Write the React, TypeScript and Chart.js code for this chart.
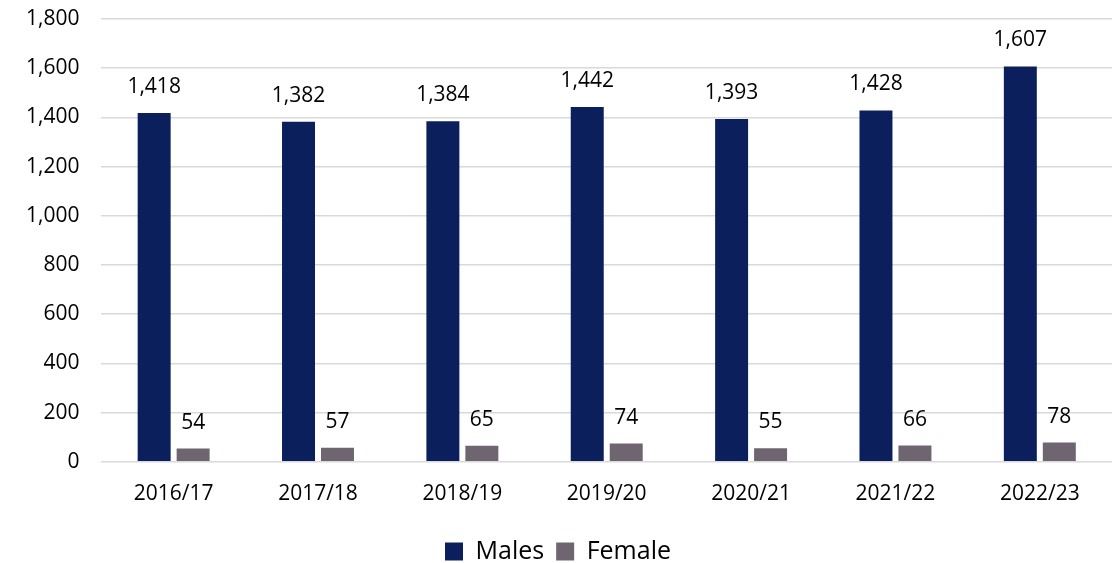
import React, { useEffect, useRef } from "react";
import { Chart, registerables } from "chart.js";

Chart.register(...registerables);

const categories = ["2016/17", "2017/18", "2018/19", "2019/20", "2020/21", "2021/22", "2022/23"];
const males = [1418, 1382, 1384, 1442, 1393, 1428, 1607];
const females = [54, 57, 65, 74, 55, 66, 78];
const seriesNames = ["Males", "Female"];
const yTicksMax = 1800;
const yTickStep = 200;

const FONT = "'Open Sans', 'Liberation Sans', sans-serif";

const dataLabelPlugin = {
  id: "dataLabels",
  afterDatasetsDraw(chart: any) {
    const ctx = chart.ctx;
    ctx.save();
    ctx.font = `21px ${FONT}`;
    ctx.fillStyle = "#000000";
    ctx.textAlign = "center";
    ctx.textBaseline = "middle";
    chart.data.datasets.forEach((ds: any, di: number) => {
      const meta = chart.getDatasetMeta(di);
      meta.data.forEach((bar: any, i: number) => {
        const v = ds.data[i];
        ctx.fillText(Number(v).toLocaleString("en-US"), bar.x, bar.y - 26);
      });
    });
    ctx.restore();
  },
};

export default function App() {
  const ref = useRef<HTMLCanvasElement | null>(null);
  useEffect(() => {
    if (!ref.current) return;
    const chart = new Chart(ref.current, {
      type: "bar",
      data: {
        labels: categories,
        datasets: [
          {
            label: seriesNames[0],
            data: males,
            backgroundColor: "#0A1F5C",
            categoryPercentage: 0.54,
            barPercentage: 0.846,
          },
          {
            label: seriesNames[1],
            data: females,
            backgroundColor: "#6E6571",
            categoryPercentage: 0.54,
            barPercentage: 0.846,
          },
        ],
      },
      options: {
        responsive: true,
        maintainAspectRatio: false,
        animation: false,
        layout: { padding: { top: 19, right: 8, left: 4, bottom: -11 } },
        scales: {
          x: {
            grid: { display: false, drawTicks: false },
            border: { display: false },
            ticks: { color: "#000", font: { family: FONT, size: 21 }, padding: 20 },
          },
          y: {
            min: 0,
            max: yTicksMax,
            border: { display: false },
            grid: { color: "#D9D9D9", lineWidth: 1.5, drawTicks: false },
            afterFit: (s: any) => {
              s.paddingTop = 0;
              s.paddingBottom = 0;
            },
            ticks: {
              stepSize: yTickStep,
              color: "#000",
              font: { family: FONT, size: 21 },
              padding: 22,
              callback: (v: any) => Number(v).toLocaleString("en-US"),
            },
          },
        },
        plugins: {
          legend: {
            position: "bottom",
            labels: {
              color: "#000",
              font: { family: FONT, size: 25 },
              boxWidth: 18,
              boxHeight: 18,
              padding: 12,
            },
          },
          tooltip: { enabled: false },
        },
      },
      plugins: [dataLabelPlugin],
    });
    return () => chart.destroy();
  }, []);
  return (
    <div style={{ position: "absolute", left: 0, top: 0, width: 1120, height: 563 }}>
      <canvas ref={ref} />
    </div>
  );
}
